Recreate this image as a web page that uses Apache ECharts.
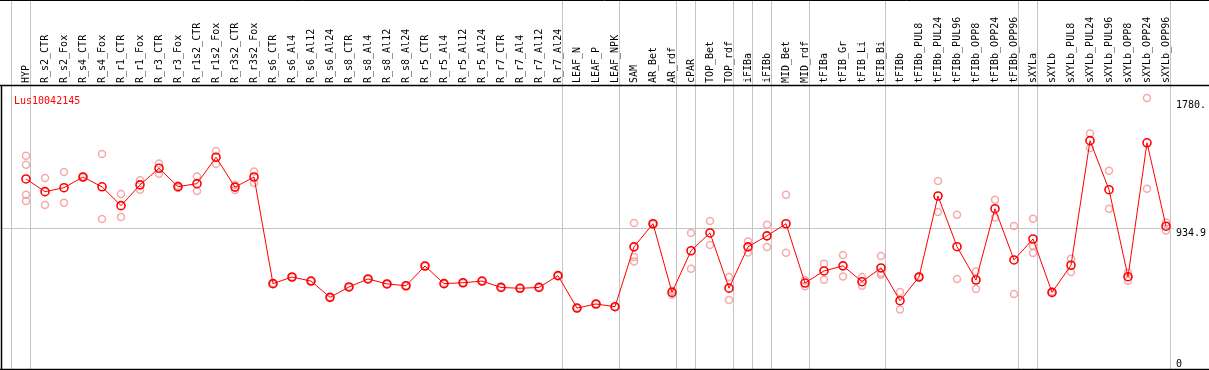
<!DOCTYPE html>
<html>
<head>
<meta charset="utf-8">
<script src="https://cdn.jsdelivr.net/npm/echarts@6/dist/echarts.min.js"></script>
<style>
html,body{margin:0;padding:0;background:#fff;}
#chart{width:1209px;height:370px;}
</style>
</head>
<body>
<div id="chart"></div>
<script>
const chartTitle = 'Lus10042145';
const categories = ['HYP','R_s2_CTR','R_s2_Fox','R_s4_CTR','R_s4_Fox','R_r1_CTR','R_r1_Fox','R_r3_CTR','R_r3_Fox','R_r1s2_CTR','R_r1s2_Fox','R_r3s2_CTR','R_r3s2_Fox','R_s6_CTR','R_s6_Al4','R_s6_Al12','R_s6_Al24','R_s8_CTR','R_s8_Al4','R_s8_Al12','R_s8_Al24','R_r5_CTR','R_r5_Al4','R_r5_Al12','R_r5_Al24','R_r7_CTR','R_r7_Al4','R_r7_Al12','R_r7_Al24','LEAF_N','LEAF_P','LEAF_NPK','SAM','AR_Bet','AR_rdf','cPAR','TOP_Bet','TOP_rdf','iFIBa','iFIBb','MID_Bet','MID_rdf','tFIBa','tFIB_Gr','tFIB_Li','tFIB_Bi','tFIBb','tFIBb_PUL8','tFIBb_PUL24','tFIBb_PUL96','tFIBb_OPP8','tFIBb_OPP24','tFIBb_OPP96','sXYLa','sXYLb','sXYLb_PUL8','sXYLb_PUL24','sXYLb_PUL96','sXYLb_OPP8','sXYLb_OPP24','sXYLb_OPP96'];
const meanValues = [1260,1176,1202,1273,1208,1083,1221,1331,1209,1229,1404,1206,1273,566,610,583,475,544,597,564,552,683,566,572,583,541,535,541,619,404,431,413,810,963,508,784,902,536,810,883,963,570,650,684,579,670,453,610,1147,811,590,1063,723,862,508,688,1514,1189,612,1500,947];
const rep1 = [1414,1266,1306,1276,1426,1160,1251,1363,1215,1277,1445,1222,1310,568,612,585,477,546,599,566,554,685,568,574,585,543,537,543,621,406,433,415,968,966,519,902,981,610,846,957,1156,588,698,756,610,749,511,614,1247,1023,647,1123,948,997,512,731,1562,1315,640,1797,972];
const rep2 = [1114,1087,1103,1270,995,1008,1189,1295,1200,1180,1359,1187,1233,564,608,581,473,542,595,562,550,681,564,570,581,539,533,539,617,402,429,411,743,960,493,665,822,457,773,809,771,548,592,614,552,637,395,606,1041,597,530,1005,497,818,504,643,1465,1063,585,1195,919];
const rep3 = [1355,null,null,null,null,null,null,null,null,null,null,null,null,null,null,null,null,null,null,null,null,null,null,null,null,null,null,null,null,null,null,null,713,null,null,null,null,null,null,null,null,null,null,null,null,625,null,null,null,null,null,null,null,769,null,null,null,null,null,null,null];
const rep4 = [1156,null,null,null,null,null,null,null,null,null,null,null,null,null,null,null,null,null,null,null,null,null,null,null,null,null,null,null,null,null,null,null,null,null,null,null,null,null,null,null,null,null,null,null,null,null,null,null,null,null,null,null,null,null,null,null,null,null,null,null,null];
const groupEnds = [0,28,31,34,35,37,38,39,41,45,52,53];
const yMax = 1869.8;
const yMid = 934.9;
const yTickLabels = {'0':'0','934.9':'934.9','1780':'1780.'};
const yUpperTick = 1780;

const sepStarts = new Set([0].concat(groupEnds.map(e => e + 1)));
const FONT = 'DejaVu Sans Mono';
const GREY = '#c4c4c4';
const PINK = '#f09696';

function repData(arr){
  const out = [];
  arr.forEach((v,i) => { if (v !== null) out.push([i, v]); });
  return out;
}
function repSeries(arr){
  return {
    type:'scatter', xAxisIndex:2, yAxisIndex:3, data:repData(arr),
    symbol:'circle', symbolSize:7, z:2, silent:true,
    itemStyle:{color:'rgba(0,0,0,0)', borderColor:PINK, borderWidth:1.5}
  };
}

const chart = echarts.init(document.getElementById('chart'), null, {renderer:'canvas'});
chart.setOption({
  animation:false,
  backgroundColor:'#fff',
  title:{text:chartTitle, left:9, top:91, textStyle:{color:'#ff0000', fontSize:10, fontWeight:'normal', fontFamily:FONT}},
  grid:[
    {left:2, width:1175, top:87, height:282},
    {left:11, width:1159, top:0, height:369},
    {left:16.5, width:1159, top:87, height:282}
  ],
  xAxis:[
    {gridIndex:0, type:'value', show:false, min:0, max:1},
    {gridIndex:1, type:'category', data:categories, boundaryGap:true,
      axisLine:{show:false}, axisTick:{show:false}, axisLabel:{show:false},
      splitLine:{show:true, interval:function(idx){ return sepStarts.has(idx); }, lineStyle:{color:GREY, width:1}}},
    {gridIndex:2, type:'category', data:categories, boundaryGap:true, position:'top',
      axisLine:{show:false}, axisTick:{show:false}, splitLine:{show:false},
      axisLabel:{interval:0, rotate:90, margin:4, fontSize:10, fontFamily:FONT, color:'#000'}}
  ],
  yAxis:[
    {gridIndex:0, type:'value', min:0, max:yMax, interval:yMid, position:'right',
      axisLine:{show:false}, axisTick:{show:false},
      splitLine:{show:true, showMinLine:false, showMaxLine:false, lineStyle:{color:GREY, width:1}},
      axisLabel:{margin:2, fontSize:10, fontFamily:FONT, color:'#000', verticalAlign:'top', verticalAlignMinLabel:'bottom', showMaxLabel:false,
        formatter:function(v){ const k = String(Math.round(v*10)/10); return yTickLabels[k] !== undefined ? yTickLabels[k] : ''; }}},
    {gridIndex:0, type:'value', min:0, max:yMax, interval:yUpperTick, position:'right',
      axisLine:{show:false}, axisTick:{show:false}, splitLine:{show:false},
      axisLabel:{margin:2, fontSize:10, fontFamily:FONT, color:'#000', verticalAlign:'top', showMinLabel:false, showMaxLabel:false,
        formatter:function(v){ return v === yUpperTick ? yTickLabels[String(yUpperTick)] : ''; }}},
    {gridIndex:1, type:'value', show:false},
    {gridIndex:2, type:'value', min:0, max:yMax, show:false}
  ],
  graphic:[
    {type:'line', z:100, silent:true, shape:{x1:0, y1:0.5, x2:1209, y2:0.5}, style:{stroke:'#000', lineWidth:1}},
    {type:'line', z:100, silent:true, shape:{x1:0, y1:85.5, x2:1209, y2:85.5}, style:{stroke:'#000', lineWidth:1.5}},
    {type:'line', z:100, silent:true, shape:{x1:0, y1:369.5, x2:1209, y2:369.5}, style:{stroke:'#000', lineWidth:1.5}},
    {type:'line', z:100, silent:true, shape:{x1:1.5, y1:85, x2:1.5, y2:370}, style:{stroke:'#000', lineWidth:1.5}}
  ],
  series:[
    repSeries(rep1), repSeries(rep2), repSeries(rep3), repSeries(rep4),
    {type:'line', xAxisIndex:2, yAxisIndex:3, data:meanValues, z:5, silent:true,
      symbol:'circle', symbolSize:8, showAllSymbol:true,
      lineStyle:{color:'#ff0000', width:1},
      itemStyle:{color:'rgba(0,0,0,0)', borderColor:'#ff0000', borderWidth:1.6}}
  ]
});
</script>
</body>
</html>
